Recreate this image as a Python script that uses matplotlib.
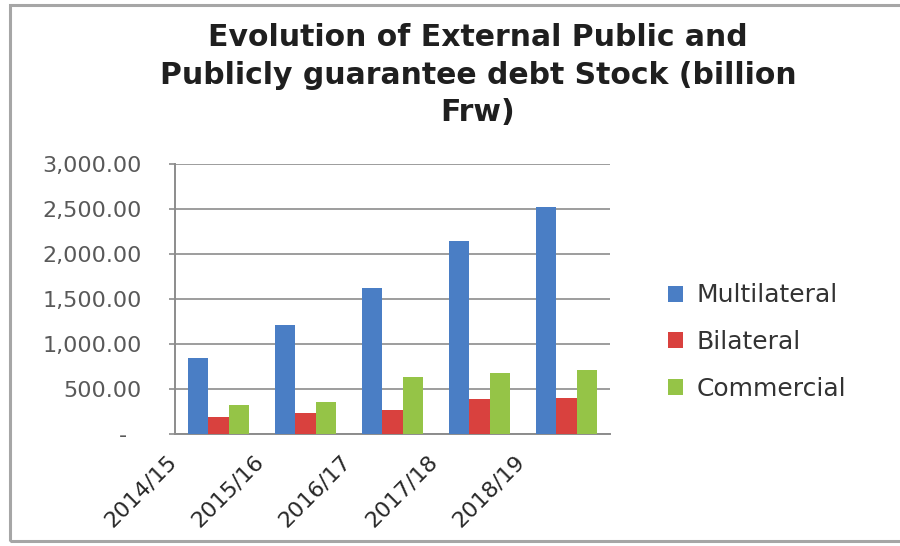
import matplotlib
matplotlib.use("Agg")
import matplotlib.pyplot as plt
import matplotlib.transforms as mtransforms
from matplotlib.patches import Rectangle
from matplotlib.ticker import FuncFormatter, MultipleLocator
import numpy as np

# Debt stock by creditor type, billion Frw
years = ["2014/15", "2015/16", "2016/17", "2017/18", "2018/19"]
multilateral = [843, 1213, 1627, 2145, 2526]
bilateral = [195, 233, 270, 388, 400]
commercial = [325, 355, 633, 684, 714]
series_names = ["Multilateral", "Bilateral", "Commercial"]
colors = ["#4A7EC5", "#D9413E", "#95C447"]

plt.rcParams["font.family"] = ["DejaVu Sans"]

fig = plt.figure(figsize=(9, 5.46), dpi=100)
fig.patch.set_facecolor("white")

# outer chart frame
fig.add_artist(Rectangle((10 / 900, 5 / 546), 1.2, 1 - 10 / 546,
                         transform=fig.transFigure, fill=False,
                         edgecolor="#A6A6A6", linewidth=2.2))

ax = fig.add_axes([175 / 900, 1 - 434.3 / 546, 435 / 900, (434.3 - 164) / 546])

x = np.arange(len(years))
w = 0.23
for i, (vals, name, c) in enumerate(zip([multilateral, bilateral, commercial],
                                        series_names, colors)):
    ax.bar(x + (i - 1) * w, vals, width=w, color=c, label=name, zorder=3)

ax.set_xlim(-0.5, len(years) - 0.5)
ax.set_ylim(0, 3000)
ax.yaxis.set_major_locator(MultipleLocator(500))
ax.yaxis.set_major_formatter(FuncFormatter(
    lambda v, p: "-  " if v == 0 else f"{v:,.2f}"))
ax.grid(axis="y", color="#8C8C8C", linewidth=1.2, zorder=0)

for side in ["top", "right"]:
    ax.spines[side].set_visible(False)
for side in ["left", "bottom"]:
    ax.spines[side].set_color("#8C8C8C")
    ax.spines[side].set_linewidth(1.4)

ax.tick_params(axis="y", length=4, width=1.2, color="#8C8C8C", pad=20,
               labelsize=16, labelcolor="#595959")
ax.tick_params(axis="x", length=0, pad=2, labelsize=16, labelcolor="#262626")
ax.set_xticks(x)
ax.set_xticklabels(years, rotation=45, ha="right", rotation_mode="anchor")
shift = mtransforms.ScaledTranslation(-52 / 100, -14 / 100, fig.dpi_scale_trans)
for lbl in ax.get_xticklabels():
    lbl.set_transform(lbl.get_transform() + shift)

fig.text(0.531, 1 - 75 / 546,
         "Evolution of External Public and\n"
         "Publicly guarantee debt Stock (billion\nFrw)",
         ha="center", va="center", fontsize=21.5, fontweight="bold",
         color="#1F1F1F", linespacing=1.35)

leg = fig.legend(loc="center left", bbox_to_anchor=(645 / 900, 1 - 342 / 546),
                 frameon=False, fontsize=18, handlelength=0.6, handleheight=0.6,
                 handletextpad=0.55, labelspacing=0.9, labelcolor="#333333")

fig.savefig("out.png", dpi=100, facecolor="white")
